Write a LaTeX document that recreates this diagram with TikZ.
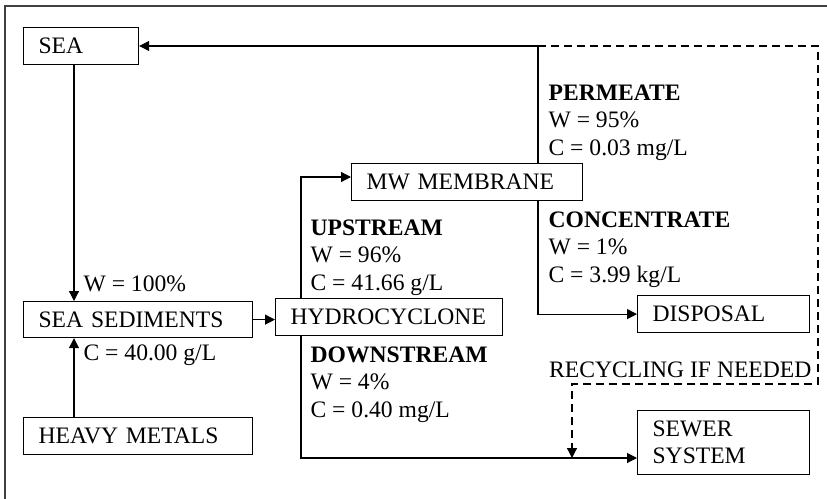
\documentclass[tikz,border=0pt]{standalone}
\usepackage{fontspec}
\setmainfont{Liberation Serif}
\usetikzlibrary{arrows.meta}
\begin{document}
\begin{tikzpicture}[x=0.5pt,y=-0.5pt,line width=0.6pt,>={Triangle[length=5pt,width=5pt]},
    box/.style={draw, anchor=north west, inner xsep=7.5pt, inner ysep=0pt, align=left, font=\fontsize{11.8}{13.5}\selectfont},
    lbl/.style={anchor=base west, inner sep=0pt, align=left, font=\fontsize{11.8}{13.6}\selectfont}]
    \useasboundingbox (0,0) rectangle (827,499);
    \draw[line width=0.8pt,black!75] (5,499) -- (5,6) -- (827,6);
    % boxes
    \node[box, text width=42.5pt, minimum height=18.5pt] (sea) at (23,27) {SEA};
    \node[box, text width=99.5pt, minimum height=18pt] (sediments) at (23,301) {SEA SEDIMENTS};
    \node[box, text width=99.5pt, minimum height=18.5pt] (metals) at (23,417) {HEAVY METALS};
    \node[box, text width=98.5pt, minimum height=18.5pt] (hydro) at (275,298) {HYDROCYCLONE};
    \node[box, text width=100.5pt, minimum height=18.5pt] (membrane) at (351,163) {MW MEMBRANE};
    \node[box, text width=71pt, minimum height=18.5pt] (disposal) at (637,295) {DISPOSAL};
    \node[box, text width=71pt, minimum height=32pt] (sewer) at (637,410) {SEWER\\SYSTEM};
    % bends
    \coordinate (split) at (538,46);
    \coordinate (turn) at (818,46);
    \coordinate (back) at (818,384);
    \coordinate (drop) at (572,384);
    \coordinate (seafall) at (74,0);
    \coordinate (rise) at (301,177);
    \coordinate (low) at (301,458);
    \draw[->] (split |- membrane.north) -- (split) -- (split -| sea.east);
    \draw[->] (split |- membrane.south) |- (disposal.west);
    \draw[->] (seafall |- sea.south) -- (seafall |- sediments.north);
    \draw[->] (seafall |- metals.north) -- (seafall |- sediments.south);
    \draw[->] (sediments.east) -- (sediments.east -| hydro.west);
    \draw[->] (rise |- hydro.north) -- (rise) -- (rise -| membrane.west);
    \draw[->] (rise |- hydro.south) -- (low) -- (low -| sewer.west);
    \draw[->,dash pattern=on 4pt off 2.5pt] (split) -- (turn) -- (back) -- (drop) -- (drop |- low);
    % labels (base = last line)
    \node[lbl] (inflow) at (83,291) {W = 100\%};
    \node[lbl] (inconc) at (83,360) {C = 40.00 g/L};
    \node[lbl] (upstream) at (310,290) {\textbf{UPSTREAM}\\W = 96\%\\C = 41.66 g/L};
    \node[lbl] (downstream) at (310,417) {\textbf{DOWNSTREAM}\\W = 4\%\\C = 0.40 mg/L};
    \node[lbl] (permeate) at (548,155) {\textbf{PERMEATE}\\W = 95\%\\C = 0.03 mg/L};
    \node[lbl] (concentrate) at (548,282) {\textbf{CONCENTRATE}\\W = 1\%\\C = 3.99 kg/L};
    \node[lbl, anchor=base east] (recycle) at (812,377) {RECYCLING IF NEEDED};
  \end{tikzpicture}
\end{document}
